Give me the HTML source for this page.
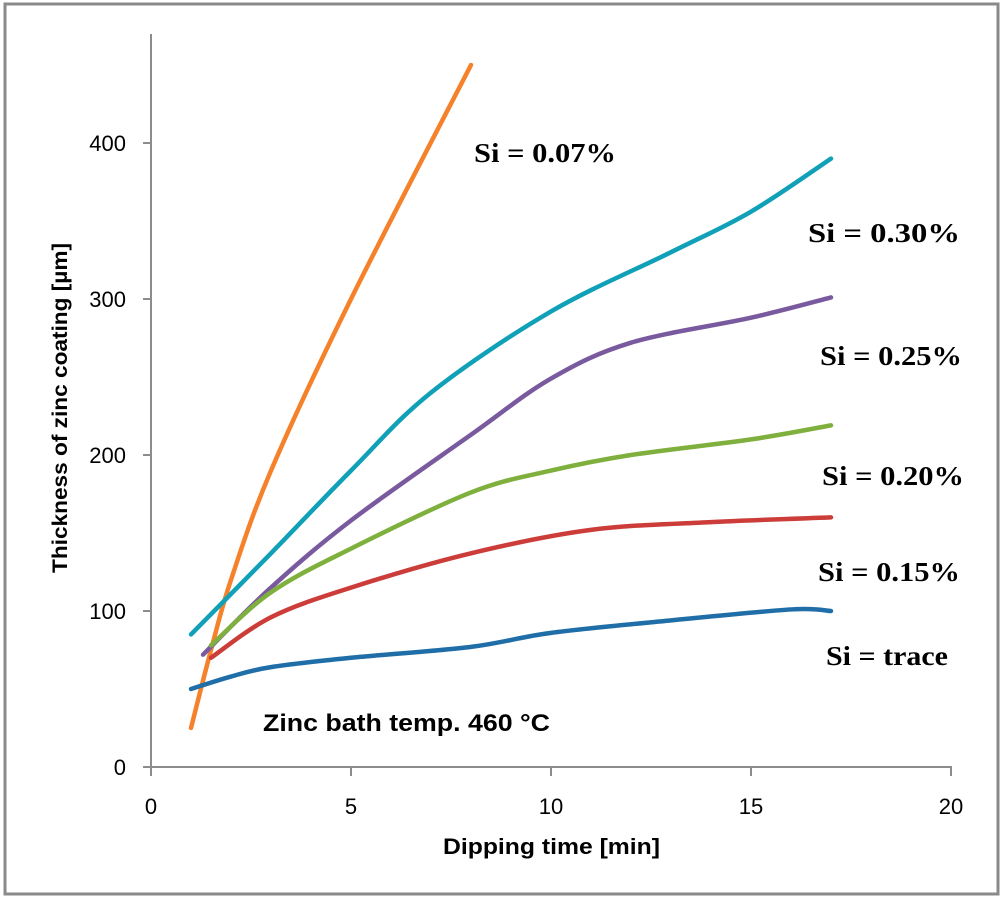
<!DOCTYPE html>
<html><head><meta charset="utf-8"><style>
body{margin:0;background:#fff;width:1004px;height:897px;overflow:hidden}
svg text{font-family:"Liberation Sans",sans-serif}
.si{font-family:"Liberation Serif",serif;font-weight:bold;font-size:27px}
</style></head><body>
<svg id="chart" width="1004" height="897">
<rect x="5" y="4" width="993" height="890" fill="#fff" stroke="#8a8a8a" stroke-width="3"/>
<g id="axes"></g>
<g id="series"></g>
<text x="0" y="0" transform="translate(67,408) rotate(-90)" text-anchor="middle" font-size="21" font-weight="bold" textLength="330" lengthAdjust="spacingAndGlyphs">Thickness of zinc coating [µm]</text>
<text x="443" y="854" font-size="22" font-weight="bold" textLength="217" lengthAdjust="spacingAndGlyphs">Dipping time [min]</text>
<text x="263" y="731" font-size="24" font-weight="bold" textLength="287" lengthAdjust="spacingAndGlyphs">Zinc bath temp. 460 °C</text>
<text class="si" x="474" y="162" textLength="142" lengthAdjust="spacingAndGlyphs">Si = 0.07%</text>
<text class="si" x="808" y="242" textLength="152" lengthAdjust="spacingAndGlyphs">Si = 0.30%</text>
<text class="si" x="820" y="365" textLength="142" lengthAdjust="spacingAndGlyphs">Si = 0.25%</text>
<text class="si" x="822" y="485" textLength="142" lengthAdjust="spacingAndGlyphs">Si = 0.20%</text>
<text class="si" x="818" y="581" textLength="142" lengthAdjust="spacingAndGlyphs">Si = 0.15%</text>
<text class="si" x="826" y="665" textLength="122" lengthAdjust="spacingAndGlyphs">Si = trace</text>
</svg>
<script>
const xTicks=[0,5,10,15,20];
const yTicks=[0,100,200,300,400];
const seriesNames=["si-007","si-030","si-025","si-020","si-015","si-trace"];
const seriesColors=["#f5822a","#10a0b8","#7a5a9e","#7fb03e","#cc3d3a","#1f6ea8"];
const xOrange=[1,1.5,2,3,5,8];
const yOrange=[25,75,120,190,300,450];
const xTeal=[1,3,5,7,10,13,15,17];
const yTeal=[85,137,190,240,292,330,356,390];
const xPurple=[1.3,3,5,8,10,12,15,17];
const yPurple=[72,115,158,213,249,272,288,301];
const xGreen=[1.5,3,5,8,10,12,15,17];
const yGreen=[78,112,140,176,190,200,210,219];
const xRed=[1.5,3,5,8,11,14,17];
const yRed=[70,96,115,137,152,157,160];
const xBlue=[1,2,3,5,8,10,13,16,17];
const yBlue=[50,58,64,70,77,86,94,101,100];
const xs=[xOrange,xTeal,xPurple,xGreen,xRed,xBlue];
const ys=[yOrange,yTeal,yPurple,yGreen,yRed,yBlue];
const NS="http://www.w3.org/2000/svg";
function sx(v){return 151+v*40;}
function sy(v){return 767-v*1.56;}
const axes=document.getElementById('axes');
function mk(tag,attrs,parent){const e=document.createElementNS(NS,tag);for(const k in attrs)e.setAttribute(k,attrs[k]);parent.appendChild(e);return e;}
let a=mk('line',{x1:151,y1:34,x2:151,y2:767,stroke:'#8c8c8c','stroke-width':2},axes);


a=mk('line',{x1:143,y1:767,x2:952,y2:767,stroke:'#8c8c8c','stroke-width':2},axes);


xTicks.forEach(t=>{
 const l=mk('line',{x1:sx(t),y1:767,x2:sx(t),y2:776,stroke:'#8c8c8c','stroke-width':2},axes);
 
 
 const tx=mk('text',{x:sx(t),y:814,'text-anchor':'middle','font-size':22},axes);
 tx.textContent=t;
 
 
});
yTicks.forEach(t=>{
 const l=mk('line',{x1:143,y1:sy(t),x2:151,y2:sy(t),stroke:'#8c8c8c','stroke-width':2},axes);
 
 
 const tx=mk('text',{x:126,y:sy(t)+8,'text-anchor':'end','font-size':22},axes);
 tx.textContent=t;
 
 
});
function smooth(pts){
 let d='M'+pts[0][0]+','+pts[0][1];
 for(let i=0;i<pts.length-1;i++){
  const p0=pts[i-1]||pts[i],p1=pts[i],p2=pts[i+1],p3=pts[i+2]||p2;
  const c1=[p1[0]+(p2[0]-p0[0])/6,p1[1]+(p2[1]-p0[1])/6];
  const c2=[p2[0]-(p3[0]-p1[0])/6,p2[1]-(p3[1]-p1[1])/6];
  d+=' C'+c1+' '+c2+' '+p2;
 }
 return d;
}
const sg=document.getElementById('series');
for(let s=0;s<xs.length;s++){
 const pts=xs[s].map((x,i)=>[sx(x),sy(ys[s][i])]);
 const p=mk('path',{d:smooth(pts),fill:'none',stroke:seriesColors[s],'stroke-width':4.5,'stroke-linecap':'round'},sg);
 
 
}
</script>
</body></html>
